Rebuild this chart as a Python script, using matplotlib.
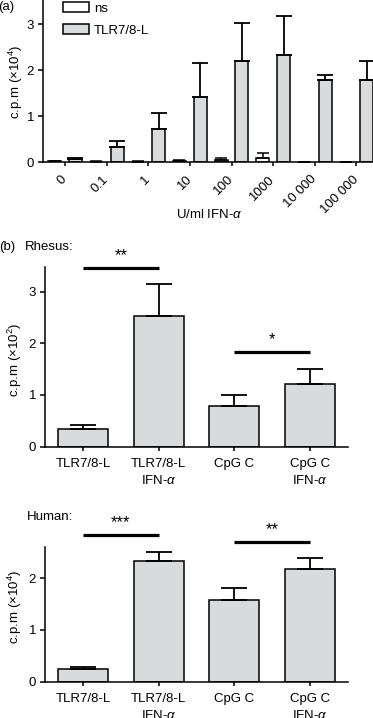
import numpy as np
import matplotlib
matplotlib.use("Agg")
import matplotlib.pyplot as plt
from matplotlib.patches import Patch

FS = 9.5
plt.rcParams.update({
    'font.family': ['Liberation Sans', 'DejaVu Sans'],
    'font.size': FS,
    'mathtext.fontset': 'custom',
    'mathtext.rm': 'Liberation Sans',
    'mathtext.it': 'Liberation Sans:italic',
    'axes.linewidth': 1.1,
    'xtick.major.width': 1.1,
    'ytick.major.width': 1.1,
    'xtick.major.size': 3,
    'ytick.major.size': 3.5,
    'xtick.labelsize': FS,
    'ytick.labelsize': FS,
})

# ===== data =====
# panel (a): IFN-alpha dose response
doses = ["0", "0.1", "1", "10", "100", "1000", "10 000", "100 000"]
ns_vals = [0.02, 0.01, 0.01, 0.03, 0.05, 0.10, 0.0, 0.0]
ns_err = [0.01, 0.01, 0.01, 0.02, 0.04, 0.10, 0.0, 0.0]
tlr_vals = [0.08, 0.34, 0.72, 1.43, 2.20, 2.34, 1.78, 1.78]
tlr_err = [0.02, 0.13, 0.35, 0.73, 0.84, 0.84, 0.12, 0.42]

# panel (b): stimuli +/- IFN-alpha
conds = ["TLR7/8-L", "TLR7/8-L\nIFN-$\\alpha$", "CpG C", "CpG C\nIFN-$\\alpha$"]
rhesus_vals = [0.34, 2.52, 0.79, 1.21]
rhesus_err = [0.07, 0.62, 0.20, 0.29]
human_vals = [0.25, 2.34, 1.57, 2.18]
human_err = [0.03, 0.16, 0.24, 0.21]

# significance: (bar i, bar j, line height, label)
rhesus_sig = [(0, 1, 3.46, "**"), (2, 3, 1.83, "*")]
human_sig = [(0, 1, 2.84, "***"), (2, 3, 2.71, "**")]

GREY = '#d9dadc'
W, H = 373, 718

fig = plt.figure(figsize=(W / 100, H / 100), dpi=100)


def ax_rect(x0, x1, ytop, ybot):
    """pixel box -> figure fraction"""
    return [x0 / W, 1 - ybot / H, (x1 - x0) / W, (ybot - ytop) / H]


def style(ax):
    for s in ('top', 'right'):
        ax.spines[s].set_visible(False)
    ax.tick_params(direction='out', pad=3)


# ===== panel (a) =====
ax = fig.add_axes(ax_rect(43, 373, 0, 162.3))
style(ax)
x = np.arange(len(doses))
off, bw = 0.25, 0.31
ax.bar(x - off, ns_vals, bw, color='white', edgecolor='black', linewidth=1.1,
       label='ns', zorder=2)
ax.bar(x + off, tlr_vals, bw, color=GREY, edgecolor='black', linewidth=1.1,
       label='TLR7/8-L', zorder=2)
ax.errorbar(x - off, ns_vals, yerr=[np.zeros(len(x)), ns_err], fmt='none',
            ecolor='black', elinewidth=1.1, capsize=4, capthick=1.1, zorder=3)
ax.errorbar(x + off, tlr_vals, yerr=[np.zeros(len(x)), tlr_err], fmt='none',
            ecolor='black', elinewidth=1.3, capsize=6, capthick=1.3, zorder=3)
ax.set_xlim(-0.53, 7.4)
ax.set_ylim(0, 3.53)
ax.set_yticks([0, 1, 2, 3])
ax.set_xticks(x)
ax.set_xticklabels(doses, rotation=45, ha='right', rotation_mode='anchor', va='center')
ax.tick_params(axis='x', pad=8)
ax.legend(handles=[Patch(facecolor='white', edgecolor='black', linewidth=1.1, label='ns'),
                   Patch(facecolor=GREY, edgecolor='black', linewidth=1.1, label='TLR7/8-L')],
          loc='upper left', bbox_to_anchor=(0.06, 0.985), frameon=False,
          borderaxespad=0, borderpad=0, handlelength=2.0, handleheight=0.75,
          handletextpad=0.35, labelspacing=0.7, fontsize=FS)
fig.text(-2 / W, 1 - 7 / H, "(a)", ha='left', va='center', fontsize=FS)
fig.text(16 / W, 1 - 82 / H, "c.p.m ($\\times$10$^4$)", rotation=90,
         ha='center', va='center', fontsize=FS)
fig.text(209 / W, 1 - 215 / H, "U/ml IFN-$\\alpha$", ha='center', va='center', fontsize=FS)


# ===== panel (b) =====
def panel_b(rect, vals, errs, sig, ylim, ylab, ylab_y):
    ax = fig.add_axes(rect)
    style(ax)
    xb = np.arange(len(conds))
    ax.bar(xb, vals, 0.66, color=GREY, edgecolor='black', linewidth=1.1, zorder=2)
    ax.errorbar(xb, vals, yerr=[np.zeros(len(xb)), errs], fmt='none',
                ecolor='black', elinewidth=1.3, capsize=9.5, capthick=1.3, zorder=3)
    ax.set_xlim(-0.5, 3.5)
    ax.set_ylim(*ylim)
    ax.set_yticks([t for t in [0, 1, 2, 3] if t <= ylim[1]])
    ax.set_xticks(xb)
    ax.set_xticklabels(conds, linespacing=1.4)
    ax.tick_params(axis='x', pad=5)
    for i, j, h, lab in sig:
        ax.plot([i, j], [h, h], color='black', linewidth=2.3, clip_on=False,
                solid_capstyle='butt')
        ax.text((i + j) / 2, h + 0.15, lab, ha='center', va='baseline',
                fontsize=12, clip_on=False)
    fig.text(15 / W, 1 - ylab_y / H, ylab, rotation=90, ha='center', va='center', fontsize=FS)
    return ax


panel_b(ax_rect(45, 348, 266.7, 446.7), rhesus_vals, rhesus_err, rhesus_sig,
        (0, 3.48), "c.p.m ($\\times$10$^2$)", 360)
fig.text(-1 / W, 1 - 247 / H, "(b)", ha='left', va='center', fontsize=FS)
fig.text(25 / W, 1 - 247 / H, "Rhesus:", ha='left', va='center', fontsize=FS)

panel_b(ax_rect(45, 348, 546.7, 681.7), human_vals, human_err, human_sig,
        (0, 2.61), "c.p.m ($\\times$10$^4$)", 607)
fig.text(27 / W, 1 - 517 / H, "Human:", ha='left', va='center', fontsize=FS)

fig.savefig("out.png", dpi=100)
